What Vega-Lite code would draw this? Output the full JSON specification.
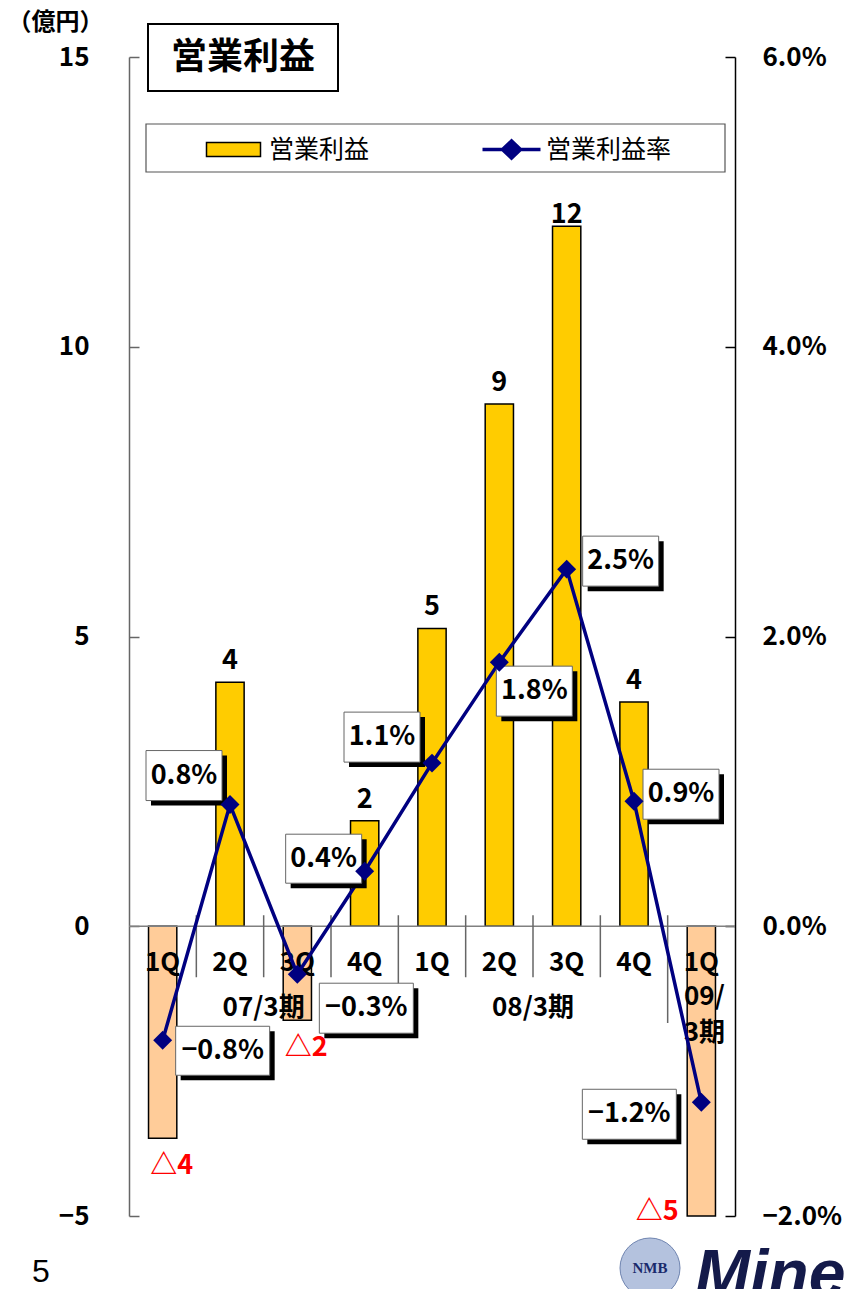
{
  "$schema": "https://vega.github.io/schema/vega-lite/v6.json",
  "width": 606,
  "height": 1159,
  "autosize": {"type": "none"},
  "padding": {"left": 129, "top": 57, "right": 109, "bottom": 73},
  "background": "white",
  "config": {
    "view": {"stroke": null},
    "font": "Noto Sans CJK JP",
    "axis": {"grid": false},
    "text": {"font": "Noto Sans CJK JP", "fontWeight": "bold", "fontSize": 27, "baseline": "middle", "align": "center", "color": "black"}
  },
  "datasets": {
    "main": [
      {"id": "07-1Q", "q": "1Q", "profit": -3.66, "margin": -0.00787},
      {"id": "07-2Q", "q": "2Q", "profit": 4.21, "margin": 0.0084},
      {"id": "07-3Q", "q": "3Q", "profit": -1.62, "margin": -0.00331},
      {"id": "07-4Q", "q": "4Q", "profit": 1.82, "margin": 0.0038},
      {"id": "08-1Q", "q": "1Q", "profit": 5.14, "margin": 0.01126},
      {"id": "08-2Q", "q": "2Q", "profit": 9.01, "margin": 0.01823},
      {"id": "08-3Q", "q": "3Q", "profit": 12.08, "margin": 0.02465},
      {"id": "08-4Q", "q": "4Q", "profit": 3.87, "margin": 0.00863},
      {"id": "09-1Q", "q": "1Q", "profit": -5.0, "margin": -0.01215}
    ],
    "periods": [
      {"id": "07-3Q", "label": "07/3期"},
      {"id": "08-3Q", "label": "08/3期"},
      {"id": "09-1Q", "label": "09/\n3期"}
    ],
    "seps": [
      {"id": "07-2Q", "kind": "short"},
      {"id": "07-3Q", "kind": "short"},
      {"id": "07-4Q", "kind": "short"},
      {"id": "08-1Q", "kind": "long"},
      {"id": "08-2Q", "kind": "short"},
      {"id": "08-3Q", "kind": "short"},
      {"id": "08-4Q", "kind": "short"},
      {"id": "09-1Q", "kind": "long"}
    ],
    "deco": [
      {"id": "07-1Q", "title": "営業利益", "page": "5", "logo": "Mine", "nmb": "NMB"}
    ]
  },
  "resolve": {"scale": {"y": "independent"}},
  "layer": [
    {
      "layer": [
        {
          "data": {"name": "main"},
          "mark": {"type": "bar", "width": {"band": 0.42}, "stroke": "black", "strokeWidth": 1.5},
          "encoding": {
            "x": {"field": "id", "type": "nominal", "scale": {"type": "band", "domain": ["07-1Q","07-2Q","07-3Q","07-4Q","08-1Q","08-2Q","08-3Q","08-4Q","09-1Q"], "paddingInner": 0, "paddingOuter": 0}, "axis": null},
            "y": {"field": "profit", "type": "quantitative",
              "scale": {"domain": [-5, 15], "nice": false, "zero": false},
              "axis": {"orient": "left", "values": [-5, 0, 5, 10, 15], "format": "d", "tickSize": -10, "tickColor": "#666", "tickWidth": 1.5, "domainColor": "#666", "domainWidth": 1.5, "labelFontSize": 26, "labelFontWeight": "bold", "labelColor": "black", "labelFont": "Noto Sans CJK JP", "labelPadding": 50, "title": "（億円）", "titleAngle": 0, "titleFontSize": 24, "titleFontWeight": "bold", "titleFont": "Noto Sans CJK JP", "titleColor": "black", "titleX": -74, "titleY": -35, "titleAlign": "center", "titleBaseline": "middle"}},
            "y2": {"datum": 0},
            "fill": {"datum": "営業利益", "type": "nominal",
              "scale": {"domain": ["営業利益"], "range": ["#FFCC00"]},
              "condition": {"test": "datum.profit < 0", "value": "#FFCC99"},
              "legend": {"orient": "none", "legendX": 92, "legendY": 80, "title": null, "symbolType": "M-27,-7H27V7H-27Z", "symbolSize": 4, "symbolStrokeColor": "black", "symbolStrokeWidth": 1.5, "labelFontSize": 25, "labelFont": "Noto Sans CJK JP", "labelColor": "black", "labelOffset": 23, "padding": 0}}
          }
        },
        {
          "data": {"values": [{}]},
          "mark": {"type": "rule", "color": "#808080", "strokeWidth": 1.5},
          "encoding": {"y": {"datum": 0}}
        },
        {
          "data": {"name": "seps"},
          "transform": [{"filter": "datum.kind === 'short'"}],
          "mark": {"type": "rule", "color": "#666", "strokeWidth": 1.5},
          "encoding": {
            "x": {"field": "id", "type": "nominal", "bandPosition": 0, "scale": {"type": "band", "domain": ["07-1Q","07-2Q","07-3Q","07-4Q","08-1Q","08-2Q","08-3Q","08-4Q","09-1Q"], "paddingInner": 0, "paddingOuter": 0}, "axis": null},
            "y": {"datum": 0.19},
            "y2": {"datum": -0.88}
          }
        },
        {
          "data": {"name": "seps"},
          "transform": [{"filter": "datum.kind === 'long'"}],
          "mark": {"type": "rule", "color": "#666", "strokeWidth": 1.5},
          "encoding": {
            "x": {"field": "id", "type": "nominal", "bandPosition": 0, "scale": {"type": "band", "domain": ["07-1Q","07-2Q","07-3Q","07-4Q","08-1Q","08-2Q","08-3Q","08-4Q","09-1Q"], "paddingInner": 0, "paddingOuter": 0}, "axis": null},
            "y": {"datum": 0.19},
            "y2": {"datum": -1.67}
          }
        },
        {
          "data": {"name": "main"},
          "transform": [{"filter": "datum.profit > 0 && datum.profit < 10"}],
          "mark": {"type": "text", "baseline": "alphabetic", "dy": -13},
          "encoding": {
            "x": {"field": "id", "type": "nominal", "scale": {"type": "band", "domain": ["07-1Q","07-2Q","07-3Q","07-4Q","08-1Q","08-2Q","08-3Q","08-4Q","09-1Q"], "paddingInner": 0, "paddingOuter": 0}, "axis": null},
            "y": {"field": "profit", "type": "quantitative"},
            "text": {"field": "profit", "type": "quantitative", "format": ".0f"}
          }
        },
        {
          "data": {"name": "main"},
          "transform": [{"filter": "datum.profit >= 10"}],
          "mark": {"type": "text", "baseline": "alphabetic", "dy": -3},
          "encoding": {
            "x": {"field": "id", "type": "nominal", "scale": {"type": "band", "domain": ["07-1Q","07-2Q","07-3Q","07-4Q","08-1Q","08-2Q","08-3Q","08-4Q","09-1Q"], "paddingInner": 0, "paddingOuter": 0}, "axis": null},
            "y": {"field": "profit", "type": "quantitative"},
            "text": {"field": "profit", "type": "quantitative", "format": ".0f"}
          }
        },
        {
          "data": {"name": "main"},
          "transform": [{"filter": "datum.profit < 0 && datum.id !== '09-1Q'"}, {"calculate": "'△' + format(-datum.profit, '.0f')", "as": "lbl"}],
          "mark": {"type": "text", "color": "#FF0000", "dx": 9, "dy": 28},
          "encoding": {
            "x": {"field": "id", "type": "nominal", "scale": {"type": "band", "domain": ["07-1Q","07-2Q","07-3Q","07-4Q","08-1Q","08-2Q","08-3Q","08-4Q","09-1Q"], "paddingInner": 0, "paddingOuter": 0}, "axis": null},
            "y": {"field": "profit", "type": "quantitative"},
            "text": {"field": "lbl", "type": "nominal"}
          }
        },
        {
          "data": {"name": "main"},
          "transform": [{"filter": "datum.id === '09-1Q'"}, {"calculate": "'△' + format(-datum.profit, '.0f')", "as": "lbl"}],
          "mark": {"type": "text", "color": "#FF0000", "dx": -44, "dy": -4},
          "encoding": {
            "x": {"field": "id", "type": "nominal", "scale": {"type": "band", "domain": ["07-1Q","07-2Q","07-3Q","07-4Q","08-1Q","08-2Q","08-3Q","08-4Q","09-1Q"], "paddingInner": 0, "paddingOuter": 0}, "axis": null},
            "y": {"field": "profit", "type": "quantitative"},
            "text": {"field": "lbl", "type": "nominal"}
          }
        },
        {
          "data": {"name": "main"},
          "mark": {"type": "text", "fontSize": 26},
          "encoding": {
            "x": {"field": "id", "type": "nominal", "scale": {"type": "band", "domain": ["07-1Q","07-2Q","07-3Q","07-4Q","08-1Q","08-2Q","08-3Q","08-4Q","09-1Q"], "paddingInner": 0, "paddingOuter": 0}, "axis": null},
            "y": {"datum": -0.627},
            "text": {"field": "q", "type": "nominal"}
          }
        },
        {
          "data": {"name": "periods"},
          "transform": [{"filter": "datum.id !== '09-1Q'"}],
          "mark": {"type": "text", "fontSize": 26},
          "encoding": {
            "x": {"field": "id", "type": "nominal", "bandPosition": 0, "scale": {"type": "band", "domain": ["07-1Q","07-2Q","07-3Q","07-4Q","08-1Q","08-2Q","08-3Q","08-4Q","09-1Q"], "paddingInner": 0, "paddingOuter": 0}, "axis": null},
            "y": {"datum": -1.41},
            "text": {"field": "label", "type": "nominal"}
          }
        },
        {
          "data": {"name": "periods"},
          "transform": [{"filter": "datum.id === '09-1Q'"}],
          "mark": {"type": "text", "fontSize": 26, "lineBreak": "\n", "lineHeight": 36, "dx": 3},
          "encoding": {
            "x": {"field": "id", "type": "nominal", "scale": {"type": "band", "domain": ["07-1Q","07-2Q","07-3Q","07-4Q","08-1Q","08-2Q","08-3Q","08-4Q","09-1Q"], "paddingInner": 0, "paddingOuter": 0}, "axis": null},
            "y": {"datum": -1.22},
            "text": {"field": "label", "type": "nominal"}
          }
        },
        {
          "data": {"name": "deco"},
          "mark": {"type": "point", "filled": true, "fill": "white", "stroke": "black", "strokeWidth": 2, "opacity": 1, "size": 4},
          "encoding": {
            "x": {"field": "id", "type": "nominal", "bandPosition": 0, "scale": {"type": "band", "domain": ["07-1Q","07-2Q","07-3Q","07-4Q","08-1Q","08-2Q","08-3Q","08-4Q","09-1Q"], "paddingInner": 0, "paddingOuter": 0}, "axis": null},
            "y": {"datum": 15},
            "shape": {"value": "M19,-33H209V34H19Z"}
          }
        },
        {
          "data": {"name": "deco"},
          "mark": {"type": "text", "fontSize": 36, "dx": 114, "dy": 1},
          "encoding": {
            "x": {"field": "id", "type": "nominal", "bandPosition": 0, "scale": {"type": "band", "domain": ["07-1Q","07-2Q","07-3Q","07-4Q","08-1Q","08-2Q","08-3Q","08-4Q","09-1Q"], "paddingInner": 0, "paddingOuter": 0}, "axis": null},
            "y": {"datum": 15},
            "text": {"field": "title", "type": "nominal"}
          }
        },
        {
          "data": {"name": "deco"},
          "mark": {"type": "point", "filled": true, "fill": "white", "stroke": "#555", "strokeWidth": 1.2, "opacity": 1, "size": 4},
          "encoding": {
            "x": {"field": "id", "type": "nominal", "bandPosition": 0, "scale": {"type": "band", "domain": ["07-1Q","07-2Q","07-3Q","07-4Q","08-1Q","08-2Q","08-3Q","08-4Q","09-1Q"], "paddingInner": 0, "paddingOuter": 0}, "axis": null},
            "y": {"datum": 15},
            "shape": {"value": "M17,67H596V115H17Z"}
          }
        },
        {
          "data": {"name": "deco"},
          "mark": {"type": "text", "font": "Liberation Sans", "fontWeight": "normal", "fontSize": 32, "baseline": "alphabetic", "dx": -88, "dy": 66},
          "encoding": {
            "x": {"field": "id", "type": "nominal", "bandPosition": 0, "scale": {"type": "band", "domain": ["07-1Q","07-2Q","07-3Q","07-4Q","08-1Q","08-2Q","08-3Q","08-4Q","09-1Q"], "paddingInner": 0, "paddingOuter": 0}, "axis": null},
            "y": {"datum": -5},
            "text": {"field": "page", "type": "nominal"}
          }
        },
        {
          "data": {"name": "deco"},
          "mark": {"type": "point", "shape": "circle", "filled": true, "fill": "#b4c2de", "stroke": "#6f84b0", "strokeWidth": 1, "opacity": 1, "size": 3600, "xOffset": 521, "yOffset": 52},
          "encoding": {
            "x": {"field": "id", "type": "nominal", "bandPosition": 0, "scale": {"type": "band", "domain": ["07-1Q","07-2Q","07-3Q","07-4Q","08-1Q","08-2Q","08-3Q","08-4Q","09-1Q"], "paddingInner": 0, "paddingOuter": 0}, "axis": null},
            "y": {"datum": -5}
          }
        },
        {
          "data": {"name": "deco"},
          "mark": {"type": "text", "font": "Liberation Serif", "fontWeight": "bold", "fontSize": 15, "color": "#1a2a6c", "dx": 521, "dy": 52},
          "encoding": {
            "x": {"field": "id", "type": "nominal", "bandPosition": 0, "scale": {"type": "band", "domain": ["07-1Q","07-2Q","07-3Q","07-4Q","08-1Q","08-2Q","08-3Q","08-4Q","09-1Q"], "paddingInner": 0, "paddingOuter": 0}, "axis": null},
            "y": {"datum": -5},
            "text": {"field": "nmb", "type": "nominal"}
          }
        },
        {
          "data": {"name": "deco"},
          "mark": {"type": "text", "font": "Liberation Sans", "fontWeight": "bold", "fontStyle": "italic", "fontSize": 66, "baseline": "alphabetic", "align": "left", "color": "#141a4a", "dx": 566, "dy": 80},
          "encoding": {
            "x": {"field": "id", "type": "nominal", "bandPosition": 0, "scale": {"type": "band", "domain": ["07-1Q","07-2Q","07-3Q","07-4Q","08-1Q","08-2Q","08-3Q","08-4Q","09-1Q"], "paddingInner": 0, "paddingOuter": 0}, "axis": null},
            "y": {"datum": -5},
            "text": {"field": "logo", "type": "nominal"}
          }
        }
      ]
    },
    {
      "layer": [
        {
          "data": {"name": "main"},
          "mark": {"type": "line", "strokeWidth": 3.5},
          "encoding": {
            "x": {"field": "id", "type": "nominal", "scale": {"type": "band", "domain": ["07-1Q","07-2Q","07-3Q","07-4Q","08-1Q","08-2Q","08-3Q","08-4Q","09-1Q"], "paddingInner": 0, "paddingOuter": 0}, "axis": null},
            "y": {"field": "margin", "type": "quantitative",
              "scale": {"domain": [-0.02, 0.06], "nice": false, "zero": false},
              "axis": {"orient": "right", "values": [-0.02, 0, 0.02, 0.04, 0.06], "format": ".1%", "tickSize": -10, "tickColor": "black", "tickWidth": 1.5, "domainColor": "black", "domainWidth": 1.5, "labelFontSize": 26, "labelFontWeight": "bold", "labelColor": "black", "labelFont": "Noto Sans CJK JP", "labelPadding": 37, "title": null}},
            "stroke": {"datum": "営業利益率", "type": "nominal",
              "scale": {"domain": ["営業利益率"], "range": ["#000080"]},
              "legend": {"orient": "none", "legendX": 370, "legendY": 80, "title": null, "symbolType": "M-29,0H29M-9,0L0,-8.5L9,0L0,8.5Z", "symbolSize": 4, "symbolStrokeWidth": 3.5, "symbolFillColor": "#000080", "labelFontSize": 25, "labelFont": "Noto Sans CJK JP", "labelColor": "black", "labelOffset": 22, "padding": 0}}
          }
        },
        {
          "data": {"name": "main"},
          "mark": {"type": "point", "filled": true, "fill": "black", "stroke": null, "opacity": 1, "size": 4},
          "encoding": {
            "x": {"field": "id", "type": "nominal", "scale": {"type": "band", "domain": ["07-1Q","07-2Q","07-3Q","07-4Q","08-1Q","08-2Q","08-3Q","08-4Q","09-1Q"], "paddingInner": 0, "paddingOuter": 0}, "axis": null},
            "y": {"field": "margin", "type": "quantitative"},
            "shape": {"condition": [
              {"test": "datum.id === '07-1Q'", "value": "M18,-9H112V40H18Z"},
              {"test": "datum.id === '07-2Q'", "value": "M-79,-49H-3V1H-79Z"},
              {"test": "datum.id === '07-3Q'", "value": "M27,14H121V64H27Z"},
              {"test": "datum.id === '07-4Q'", "value": "M-74,-32H2V17H-74Z"},
              {"test": "datum.id === '08-1Q'", "value": "M-83,-46H-7V4H-83Z"},
              {"test": "datum.id === '08-2Q'", "value": "M2,9H78V59H2Z"},
              {"test": "datum.id === '08-3Q'", "value": "M21,-28H97V22H21Z"},
              {"test": "datum.id === '08-4Q'", "value": "M14,-27H90V23H14Z"}
            ], "value": "M-114,-8H-20V42H-114Z"}
          }
        },
        {
          "data": {"name": "main"},
          "mark": {"type": "point", "filled": true, "fill": "white", "stroke": "#666", "strokeWidth": 1, "opacity": 1, "size": 4},
          "encoding": {
            "x": {"field": "id", "type": "nominal", "scale": {"type": "band", "domain": ["07-1Q","07-2Q","07-3Q","07-4Q","08-1Q","08-2Q","08-3Q","08-4Q","09-1Q"], "paddingInner": 0, "paddingOuter": 0}, "axis": null},
            "y": {"field": "margin", "type": "quantitative"},
            "shape": {"condition": [
              {"test": "datum.id === '07-1Q'", "value": "M13,-14H107V35H13Z"},
              {"test": "datum.id === '07-2Q'", "value": "M-84,-54H-8V-4H-84Z"},
              {"test": "datum.id === '07-3Q'", "value": "M22,9H116V59H22Z"},
              {"test": "datum.id === '07-4Q'", "value": "M-79,-37H-3V12H-79Z"},
              {"test": "datum.id === '08-1Q'", "value": "M-88,-51H-12V-1H-88Z"},
              {"test": "datum.id === '08-2Q'", "value": "M-3,4H73V54H-3Z"},
              {"test": "datum.id === '08-3Q'", "value": "M16,-33H92V17H16Z"},
              {"test": "datum.id === '08-4Q'", "value": "M9,-32H85V18H9Z"}
            ], "value": "M-119,-13H-25V37H-119Z"}
          }
        },
        {
          "data": {"name": "main"},
          "encoding": {
            "x": {"field": "id", "type": "nominal", "scale": {"type": "band", "domain": ["07-1Q","07-2Q","07-3Q","07-4Q","08-1Q","08-2Q","08-3Q","08-4Q","09-1Q"], "paddingInner": 0, "paddingOuter": 0}, "axis": null},
            "y": {"field": "margin", "type": "quantitative"},
            "text": {"field": "margin", "type": "quantitative", "format": ".1%"}
          },
          "layer": [
            {"transform": [{"filter": "datum.id === '07-1Q'"}], "mark": {"type": "text", "dx": 60, "dy": 10.5}},
            {"transform": [{"filter": "datum.id === '07-2Q'"}], "mark": {"type": "text", "dx": -46, "dy": -29}},
            {"transform": [{"filter": "datum.id === '07-3Q'"}], "mark": {"type": "text", "dx": 69, "dy": 34}},
            {"transform": [{"filter": "datum.id === '07-4Q'"}], "mark": {"type": "text", "dx": -41, "dy": -12.5}},
            {"transform": [{"filter": "datum.id === '08-1Q'"}], "mark": {"type": "text", "dx": -50, "dy": -26}},
            {"transform": [{"filter": "datum.id === '08-2Q'"}], "mark": {"type": "text", "dx": 35, "dy": 29}},
            {"transform": [{"filter": "datum.id === '08-3Q'"}], "mark": {"type": "text", "dx": 54, "dy": -8}},
            {"transform": [{"filter": "datum.id === '08-4Q'"}], "mark": {"type": "text", "dx": 47, "dy": -7}},
            {"transform": [{"filter": "datum.id === '09-1Q'"}], "mark": {"type": "text", "dx": -72, "dy": 12}}
          ]
        },
        {
          "data": {"name": "main"},
          "mark": {"type": "point", "shape": "diamond", "filled": true, "fill": "#000080", "opacity": 1, "size": 360},
          "encoding": {
            "x": {"field": "id", "type": "nominal", "scale": {"type": "band", "domain": ["07-1Q","07-2Q","07-3Q","07-4Q","08-1Q","08-2Q","08-3Q","08-4Q","09-1Q"], "paddingInner": 0, "paddingOuter": 0}, "axis": null},
            "y": {"field": "margin", "type": "quantitative"}
          }
        }
      ]
    }
  ]
}
